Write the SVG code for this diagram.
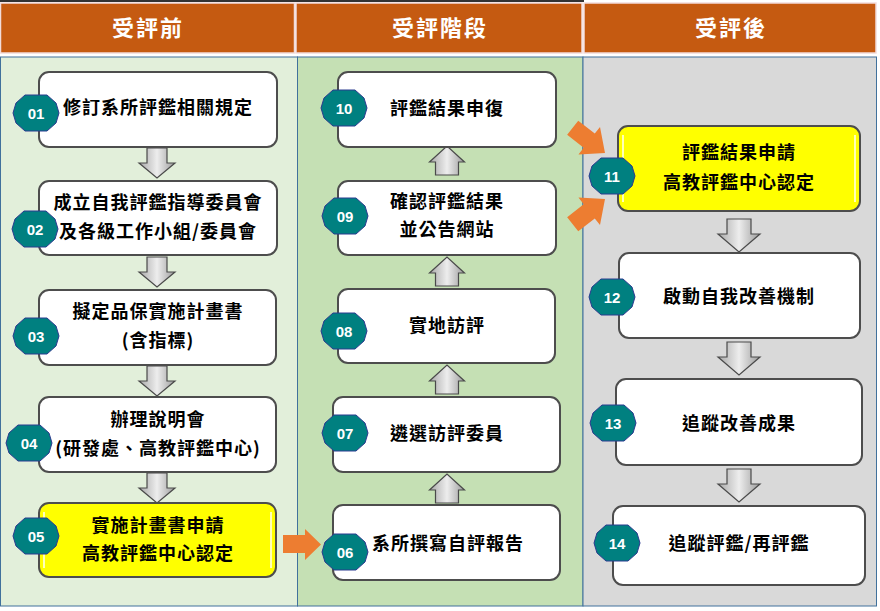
<svg xmlns="http://www.w3.org/2000/svg" width="880" height="611" viewBox="0 0 880 611">
<style>
.hdr{fill:#C55A11;stroke:#F2DCDB;stroke-width:1.5}
.htxt{font-family:"Noto Sans CJK TC","Noto Sans CJK SC",sans-serif;font-size:22px;font-weight:bold;fill:#fff;text-anchor:middle;letter-spacing:2px}
.box{fill:#fff;stroke:#4D4D4D;stroke-width:2}
.ybox{fill:#FFFF00;stroke:#4D4D4D;stroke-width:2}
.hl{stroke:#FFFFCC;stroke-width:2;opacity:0.9}
.t{font-family:"Noto Sans CJK TC","Noto Sans CJK SC",sans-serif;font-size:18px;font-weight:bold;fill:#000;text-anchor:middle;letter-spacing:1px}
.num{font-family:"Liberation Sans",Arial,sans-serif;font-size:15px;font-weight:bold;fill:#fff;text-anchor:middle}
.gar{fill:url(#gg);stroke:#4A4A4A;stroke-width:1.2}
.oar{fill:#ED7D31}
</style>
<defs>
<linearGradient id="gg" x1="0" y1="0" x2="1" y2="0">
<stop offset="0" stop-color="#A8A8A8"/>
<stop offset="0.5" stop-color="#EDEDED"/>
<stop offset="1" stop-color="#9C9C9C"/>
</linearGradient>
<polygon id="badge" points="-11,-18 11,-18 20,-10 23,0 20,10 11,18 -11,18 -20,10 -23,0 -20,-10" fill="#008080" stroke="#2B3A8F" stroke-width="1"/>
<path id="dn1" d="M-10,0 L10,0 L10,15 L18,15 L0,30 L-18,15 L-10,15 Z"/>
<path id="dn3" d="M-12,0 L12,0 L12,15 L21,15 L0,33 L-21,15 L-12,15 Z"/>
<path id="up2" d="M-11.5,29 L11.5,29 L11.5,16 L17.5,16 L0,0 L-17.5,16 L-11.5,16 Z"/>
<path id="oarr" d="M-41,-9 L-20,-9 L-20,-17.5 L0,0 L-20,17.5 L-20,9 L-41,9 Z"/>
</defs>

<rect x="0" y="0" width="880" height="611" fill="#fff"/>
<rect x="0" y="0" width="584" height="2" fill="#333"/>

<g id="headers">
<rect class="hdr" x="0.5" y="3" width="294" height="50"/>
<rect class="hdr" x="296" y="3" width="286" height="50"/>
<rect class="hdr" x="584" y="3" width="292" height="50"/>
<text class="htxt" x="148" y="36">受評前</text>
<text class="htxt" x="440" y="36">受評階段</text>
<text class="htxt" x="731" y="36">受評後</text>
</g>

<g id="panels">
<rect x="0.5" y="57" width="297" height="549" fill="#E2EFDA" stroke="#41719C" stroke-width="1"/>
<rect x="297.5" y="57" width="285.5" height="549" fill="#C5E0B4" stroke="#41719C" stroke-width="1"/>
<rect x="583" y="57" width="293.5" height="549" fill="#D9D9D9" stroke="#41719C" stroke-width="1"/>
</g>

<g id="connectors">
<use href="#dn1" class="gar" x="157" y="148"/>
<use href="#dn1" class="gar" x="157" y="257"/>
<use href="#dn1" class="gar" x="157" y="366"/>
<use href="#dn1" class="gar" x="157" y="473"/>
<use href="#up2" class="gar" x="447" y="146"/>
<use href="#up2" class="gar" x="447" y="257"/>
<use href="#up2" class="gar" x="447" y="365"/>
<use href="#up2" class="gar" x="447" y="474"/>
<use href="#dn3" class="gar" x="739" y="219"/>
<use href="#dn3" class="gar" x="739" y="342"/>
<use href="#dn3" class="gar" x="739" y="469"/>
<path class="oar" d="M283,535 L305,535 L305,529 L321,544.5 L305,560 L305,553 L283,553 Z"/>
<use href="#oarr" class="oar" transform="translate(605,153) rotate(38)"/>
<use href="#oarr" class="oar" transform="translate(605,199) rotate(-38)"/>
</g>

<g id="n01">
<rect class="box" x="39" y="72" width="238" height="75" rx="10"/>
<text class="t" x="158" y="114">修訂系所評鑑相關規定</text>
<use href="#badge" x="36" y="113"/><text class="num" x="36" y="119">01</text>
</g>
<g id="n02">
<rect class="box" x="39" y="181" width="238" height="74" rx="10"/>
<text class="t" x="158" y="209">成立自我評鑑指導委員會</text>
<text class="t" x="158" y="238">及各級工作小組/委員會</text>
<use href="#badge" x="35" y="229"/><text class="num" x="35" y="235">02</text>
</g>
<g id="n03">
<rect class="box" x="39" y="290" width="237" height="75" rx="10"/>
<text class="t" x="158" y="318">擬定品保實施計畫書</text>
<text class="t" x="158" y="347">(含指標)</text>
<use href="#badge" x="36" y="336"/><text class="num" x="36" y="342">03</text>
</g>
<g id="n04">
<rect class="box" x="39" y="397" width="237" height="75" rx="10"/>
<text class="t" x="158" y="426">辦理說明會</text>
<text class="t" x="158" y="455">(研發處、高教評鑑中心)</text>
<use href="#badge" x="29" y="443"/><text class="num" x="29" y="449">04</text>
</g>
<g id="n05">
<rect class="ybox" x="39" y="503" width="237" height="74" rx="10"/>
<line class="hl" x1="44" y1="512" x2="44" y2="568"/>
<line class="hl" x1="271" y1="512" x2="271" y2="568"/>
<text class="t" x="158" y="532">實施計畫書申請</text>
<text class="t" x="158" y="560">高教評鑑中心認定</text>
<use href="#badge" x="36" y="536"/><text class="num" x="36" y="542">05</text>
</g>

<g id="n10">
<rect class="box" x="338" y="72" width="218" height="75" rx="10"/>
<text class="t" x="447" y="115">評鑑結果申復</text>
<use href="#badge" x="344" y="108"/><text class="num" x="344" y="114">10</text>
</g>
<g id="n09">
<rect class="box" x="338" y="181" width="218" height="74" rx="10"/>
<text class="t" x="447" y="208">確認評鑑結果</text>
<text class="t" x="447" y="236">並公告網站</text>
<use href="#badge" x="345" y="216"/><text class="num" x="345" y="222">09</text>
</g>
<g id="n08">
<rect class="box" x="338" y="289" width="217" height="74" rx="10"/>
<text class="t" x="447" y="332">實地訪評</text>
<use href="#badge" x="344" y="331"/><text class="num" x="344" y="337">08</text>
</g>
<g id="n07">
<rect class="box" x="333" y="397" width="227" height="75" rx="10"/>
<text class="t" x="447" y="440">遴選訪評委員</text>
<use href="#badge" x="345" y="433"/><text class="num" x="345" y="439">07</text>
</g>
<g id="n06">
<rect class="box" x="333" y="505" width="227" height="75" rx="10"/>
<text class="t" x="448" y="550">系所撰寫自評報告</text>
<use href="#badge" x="345" y="552"/><text class="num" x="345" y="558">06</text>
</g>

<g id="n11">
<rect class="ybox" x="618" y="126" width="242" height="85" rx="10"/>
<line class="hl" x1="623" y1="135" x2="623" y2="202"/>
<line class="hl" x1="855" y1="135" x2="855" y2="202"/>
<text class="t" x="739" y="159">評鑑結果申請</text>
<text class="t" x="739" y="189">高教評鑑中心認定</text>
<use href="#badge" x="612" y="176"/><text class="num" x="612" y="182">11</text>
</g>
<g id="n12">
<rect class="box" x="619" y="253" width="241" height="85" rx="10"/>
<text class="t" x="739" y="303">啟動自我改善機制</text>
<use href="#badge" x="612" y="297"/><text class="num" x="612" y="303">12</text>
</g>
<g id="n13">
<rect class="box" x="616" y="379" width="246" height="86" rx="10"/>
<text class="t" x="739" y="430">追蹤改善成果</text>
<use href="#badge" x="613" y="423"/><text class="num" x="613" y="429">13</text>
</g>
<g id="n14">
<rect class="box" x="613" y="506" width="252" height="79" rx="10"/>
<text class="t" x="739" y="550">追蹤評鑑/再評鑑</text>
<use href="#badge" x="617" y="543"/><text class="num" x="617" y="549">14</text>
</g>
</svg>
